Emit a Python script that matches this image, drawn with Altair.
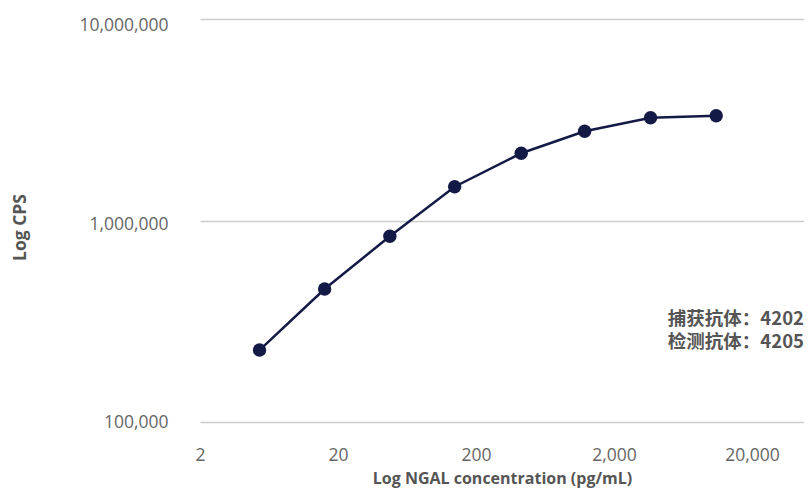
import altair as alt
import pandas as pd

# Data
concentration = [5.4, 16, 47.5, 140, 425, 1225, 3680, 11000]   # pg/mL
cps = [227500, 457000, 835000, 1471000, 2156000, 2771000, 3238000, 3312000]
x_ticks = [2, 20, 200, 2000, 20000]
y_ticks = [100000, 1000000, 10000000]
note_lines = ["捕获抗体：4202", "检测抗体：4205"]

df = pd.DataFrame({"conc": concentration, "cps": cps})

NAVY = "#141a46"
LABEL = "#666666"
TITLE = "#555555"
FONT = "Open Sans"

x_enc = alt.X(
    "conc:Q",
    scale=alt.Scale(type="log", domain=[2, 47600], nice=False),
    axis=alt.Axis(
        values=x_ticks, format=",", grid=False, ticks=False, tickSize=0, domain=False,
        labelFont=FONT, labelFontSize=17.5, labelColor=LABEL, labelPadding=24,
        labelFlush=False, labelOverlap=False,
        title="Log NGAL concentration (pg/mL)", titleFont=FONT, titleFontSize=16,
        titleFontWeight="bold", titleColor=TITLE, titleBaseline="middle", titleY=56,
    ),
)
y_enc = alt.Y(
    "cps:Q",
    scale=alt.Scale(type="log", domain=[100000, 10000000], nice=False),
    axis=alt.Axis(
        values=y_ticks, format=",", grid=True, gridColor="#cccccc", gridWidth=1.5,
        ticks=False, tickSize=0, domain=False,
        labelFont=FONT, labelFontSize=17.5, labelColor=LABEL, labelPadding=32,
        labelFlush=False, labelOverlap=False,
        labelOffset={
            "condition": [
                {"test": "datum.value >= 10000000", "value": 6},
                {"test": "datum.value >= 1000000", "value": 4},
            ],
            "value": 0,
        },
        title="Log CPS", titleFont=FONT, titleFontSize=17.5, titleFontWeight="bold",
        titleColor=TITLE, titleAngle=270, titleX=-180, titleY=208,
        titleAlign="center", titleBaseline="middle",
    ),
)

base = alt.Chart(df)
line = base.mark_line(color=NAVY, strokeWidth=2.5).encode(x=x_enc, y=y_enc)
pts = base.mark_circle(color=NAVY, size=180, opacity=1).encode(x=x_enc, y=y_enc)

note = alt.Chart(pd.DataFrame({"k": [0]})).mark_text(
    text=note_lines, align="right", baseline="middle", lineHeight=23,
    font="Noto Sans CJK SC", fontSize=18.5, fontWeight="bold", color=TITLE,
).encode(x=alt.value(604), y=alt.value(300))

chart = alt.layer(line, pts, note).properties(
    width=604, height=403,
    autosize=alt.AutoSizeParams(type="none"),
    padding={"left": 192, "top": 11, "right": 0, "bottom": 66},
).configure_view(stroke=None)

chart.save("out.html", embed_options={"renderer": "svg", "actions": False})
